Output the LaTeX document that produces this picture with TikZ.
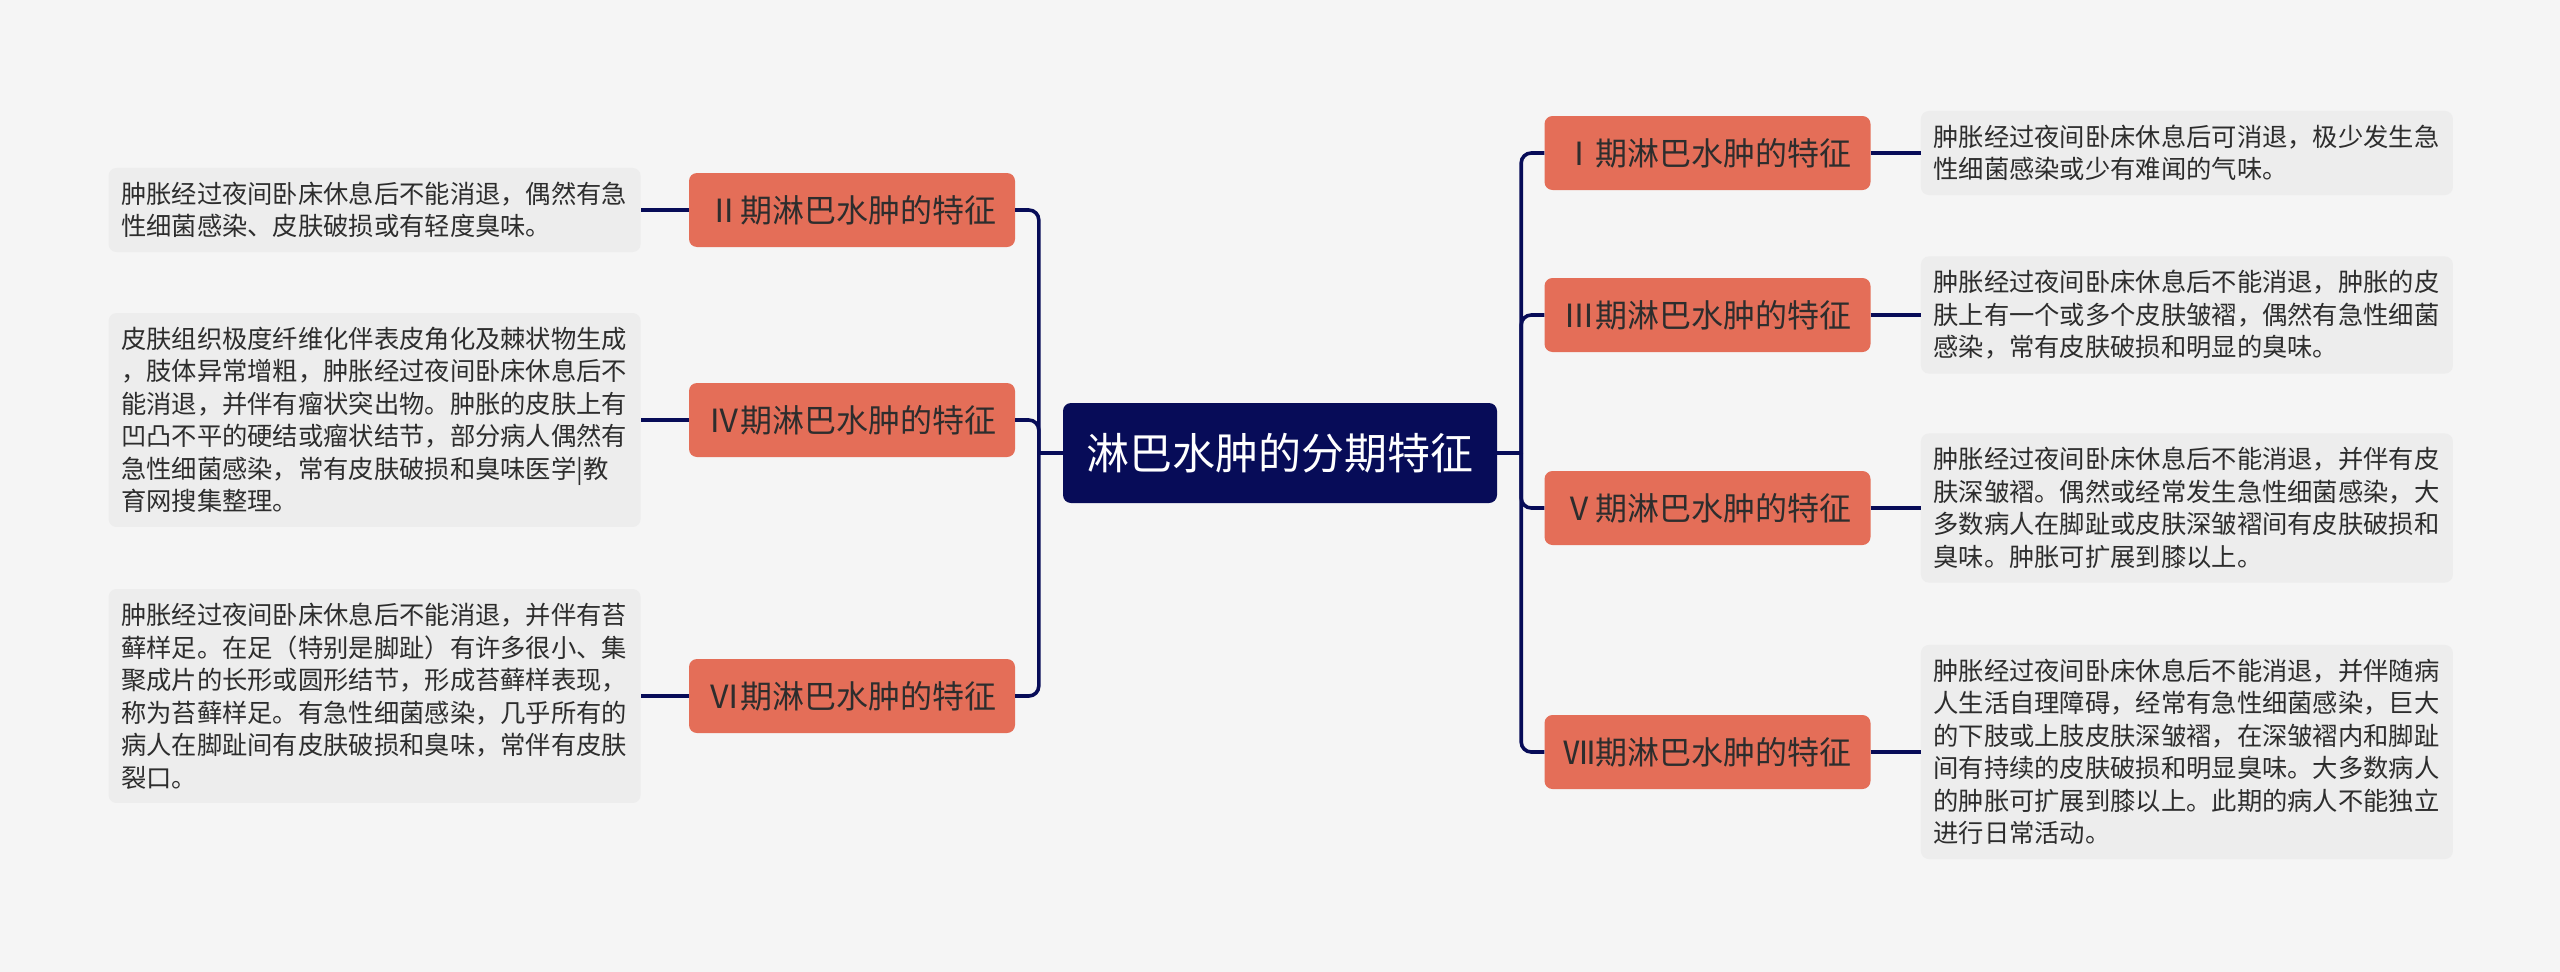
\documentclass[tikz,border=0pt]{standalone}
\usepackage{fontspec}
\setmainfont{Noto Sans CJK SC}
\usepackage{tikz}
\usetikzlibrary{positioning}

\definecolor{bgcol}{RGB}{245,245,245}
\definecolor{navy}{RGB}{7,12,88}
\definecolor{salmon}{RGB}{228,110,88}
\definecolor{notefill}{RGB}{237,237,237}
\definecolor{inkgray}{RGB}{45,45,45}

\begin{document}
\begin{tikzpicture}[
  x=1pt, y=-1pt,
  rootbox/.style  = {rectangle, rounded corners=8pt,
                     fill=navy, text=white,
                     minimum width=434pt, minimum height=100pt,
                     font=\fontsize{43}{50}\selectfont},
  stagebox/.style = {rectangle, rounded corners=8pt,
                     fill=salmon, text=inkgray,
                     minimum width=326pt, minimum height=74pt,
                     font=\fontsize{32}{38}\selectfont},
  notebox/.style  = {rectangle, rounded corners=8pt,
                     fill=notefill, text=inkgray,
                     text width=507pt, align=left,
                     inner xsep=12.5pt, inner ysep=14pt,
                     font=\fontsize{25.3}{32.5}\selectfont},
  link/.style     = {draw=navy, line width=3.6pt},
]

\fill[bgcol] (0,0) rectangle (2560,972);
\useasboundingbox (0,0) rectangle (2560,972);

%% ══ ROOT ════════════════════════════════════════════════════════════════
\node[rootbox] at (1280,453) (root) {淋巴水肿的分期特征};

\coordinate[left=24pt of root]  (jl);
\coordinate[right=24pt of root] (jr);

%% ══ LEFT SIDE: stages II, IV, VI ════════════════════════════════════════
\node[stagebox] at (852,210) (s2) {Ⅱ期淋巴水肿的特征};
\node[stagebox] at (852,420) (s4) {Ⅳ期淋巴水肿的特征};
\node[stagebox] at (852,696) (s6) {Ⅵ期淋巴水肿的特征};

\node[notebox, left=48pt of s2] (n2) {
  肿胀经过夜间卧床休息后不能消退，偶然有急\\
  性细菌感染、皮肤破损或有轻度臭味。
};
\node[notebox, left=48pt of s4] (n4) {
  皮肤组织极度纤维化伴表皮角化及棘状物生成\\
  ，肢体异常增粗，肿胀经过夜间卧床休息后不\\
  能消退，并伴有瘤状突出物。肿胀的皮肤上有\\
  凹凸不平的硬结或瘤状结节，部分病人偶然有\\
  急性细菌感染，常有皮肤破损和臭味医学|教\\
  育网搜集整理。
};
\node[notebox, left=48pt of s6] (n6) {
  肿胀经过夜间卧床休息后不能消退，并伴有苔\\
  藓样足。在足（特别是脚趾）有许多很小、集\\
  聚成片的长形或圆形结节，形成苔藓样表现，\\
  称为苔藓样足。有急性细菌感染，几乎所有的\\
  病人在脚趾间有皮肤破损和臭味，常伴有皮肤\\
  裂口。
};

%% ══ RIGHT SIDE: stages I, III, V, VII ═══════════════════════════════════
\node[stagebox] at (1707.5,153) (s1) {Ⅰ期淋巴水肿的特征};
\node[stagebox] at (1707.5,315) (s3) {Ⅲ期淋巴水肿的特征};
\node[stagebox] at (1707.5,508) (s5) {Ⅴ期淋巴水肿的特征};
\node[stagebox] at (1707.5,752) (s7) {Ⅶ期淋巴水肿的特征};

\node[notebox, right=50pt of s1] (n1) {
  肿胀经过夜间卧床休息后可消退，极少发生急\\
  性细菌感染或少有难闻的气味。
};
\node[notebox, right=50pt of s3] (n3) {
  肿胀经过夜间卧床休息后不能消退，肿胀的皮\\
  肤上有一个或多个皮肤皱褶，偶然有急性细菌\\
  感染，常有皮肤破损和明显的臭味。
};
\node[notebox, right=50pt of s5] (n5) {
  肿胀经过夜间卧床休息后不能消退，并伴有皮\\
  肤深皱褶。偶然或经常发生急性细菌感染，大\\
  多数病人在脚趾或皮肤深皱褶间有皮肤破损和\\
  臭味。肿胀可扩展到膝以上。
};
\node[notebox, right=50pt of s7] (n7) {
  肿胀经过夜间卧床休息后不能消退，并伴随病\\
  人生活自理障碍，经常有急性细菌感染，巨大\\
  的下肢或上肢皮肤深皱褶，在深皱褶内和脚趾\\
  间有持续的皮肤破损和明显臭味。大多数病人\\
  的肿胀可扩展到膝以上。此期的病人不能独立\\
  进行日常活动。
};

%% ── connectors ──────────────────────────────────────────────────────────
\draw[link] (root) -- (jl);
\draw[link] (root) -- (jr);
\foreach \s in {s2,s4,s6}
  \draw[link, rounded corners=10pt] (jl) |- (\s.east);
\foreach \s in {s1,s3,s5,s7}
  \draw[link, rounded corners=10pt] (jr) |- (\s.west);

\foreach \i in {1,...,7}
  \draw[link] (s\i) -- (n\i);

\end{tikzpicture}
\end{document}
